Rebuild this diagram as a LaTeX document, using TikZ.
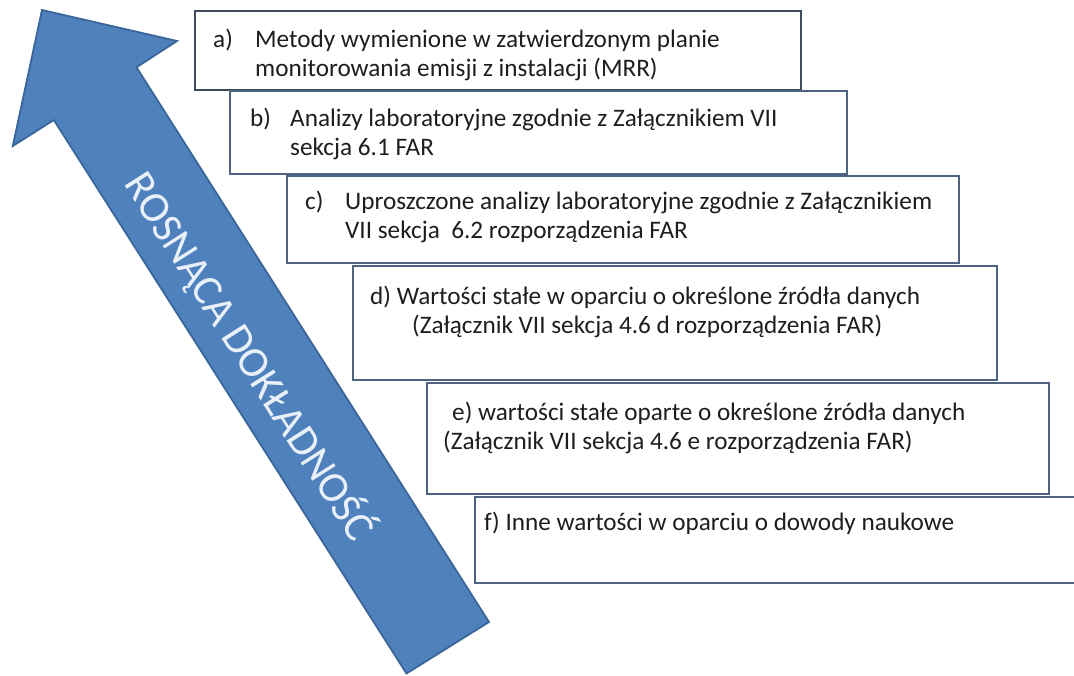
\documentclass[tikz,border=0pt]{standalone}
\usepackage{fontspec}
\setmainfont{Carlito}
\definecolor{arrowblue}{HTML}{4F81BD}
\definecolor{arrowline}{HTML}{3A6699}
\definecolor{boxline}{HTML}{4E6382}
\definecolor{boxdark}{HTML}{3F4A5C}
\definecolor{txtcol}{HTML}{1E1E1E}
\definecolor{arrowtxt}{HTML}{EAF0F8}
\begin{document}
\begin{tikzpicture}[x=1pt,y=-1pt,
  box/.style={draw=boxline, line width=1.6pt, fill=white, rectangle, inner sep=0pt, anchor=north west},
  txt/.style={anchor=base west, inner sep=0pt, text=txtcol, font=\fontsize{25.2}{29}\selectfont}]
\useasboundingbox (0,0) rectangle (1074,675);
\fill[white] (0,0) rectangle (1074,675);
\clip (0,0) rectangle (1074,675);
% big arrow
\draw[fill=arrowblue, draw=arrowline, line width=1.8pt, line join=miter]
  (42,10) -- (177,41) -- (136.5,67.3) -- (489,622) -- (406.5,673.5)
  -- (53.8,120) -- (12.8,146) -- cycle;
\node[rotate=-57.5, text=arrowtxt, inner sep=0pt, font=\fontsize{43}{43}\selectfont] (arrowlabel) at (250,356) {ROSNĄCA DOKŁADNOŚĆ};
% boxes
\node[box, draw=boxdark, minimum width=606pt, minimum height=79pt] (A) at (194,10) {};
\node[box, minimum width=617pt, minimum height=83pt] (B) at (229,90) {};
\node[box, minimum width=672pt, minimum height=87pt] (C) at (286,175) {};
\node[box, minimum width=644pt, minimum height=114pt] (D) at (352,265) {};
\node[box, minimum width=622pt, minimum height=111pt] (E) at (426,382) {};
\node[box, minimum width=610pt, minimum height=86pt] (F) at (474,496) {};
% texts
\node[txt] (a0) at (213,47) {a)};
\node[txt] (a1) at (255,47) {Metody wymienione w zatwierdzonym planie};
\node[txt] (a2) at (255,76) {monitorowania emisji z instalacji (MRR)};
\node[txt] (b0) at (250,126) {b)};
\node[txt] (b1) at (290,126) {Analizy laboratoryjne zgodnie z Załącznikiem VII};
\node[txt] (b2) at (290,155) {sekcja 6.1 FAR};
\node[txt] (c0) at (305,209) {c)};
\node[txt] (c1) at (345,209) {Uproszczone analizy laboratoryjne zgodnie z Załącznikiem};
\node[txt] (c2) at (345,238) {VII sekcja\ \ 6.2 rozporządzenia FAR};
\node[txt] (d1) at (370,304) {d) Wartości stałe w oparciu o określone źródła danych};
\node[txt] (d2) at (412,333) {(Załącznik VII sekcja 4.6 d rozporządzenia FAR)};
\node[txt] (e1) at (452,420) {e) wartości stałe oparte o określone źródła danych};
\node[txt] (e2) at (443,449) {(Załącznik VII sekcja 4.6 e rozporządzenia FAR)};
\node[txt] (f1) at (484,530) {f) Inne wartości w oparciu o dowody naukowe};
\end{tikzpicture}
\end{document}
